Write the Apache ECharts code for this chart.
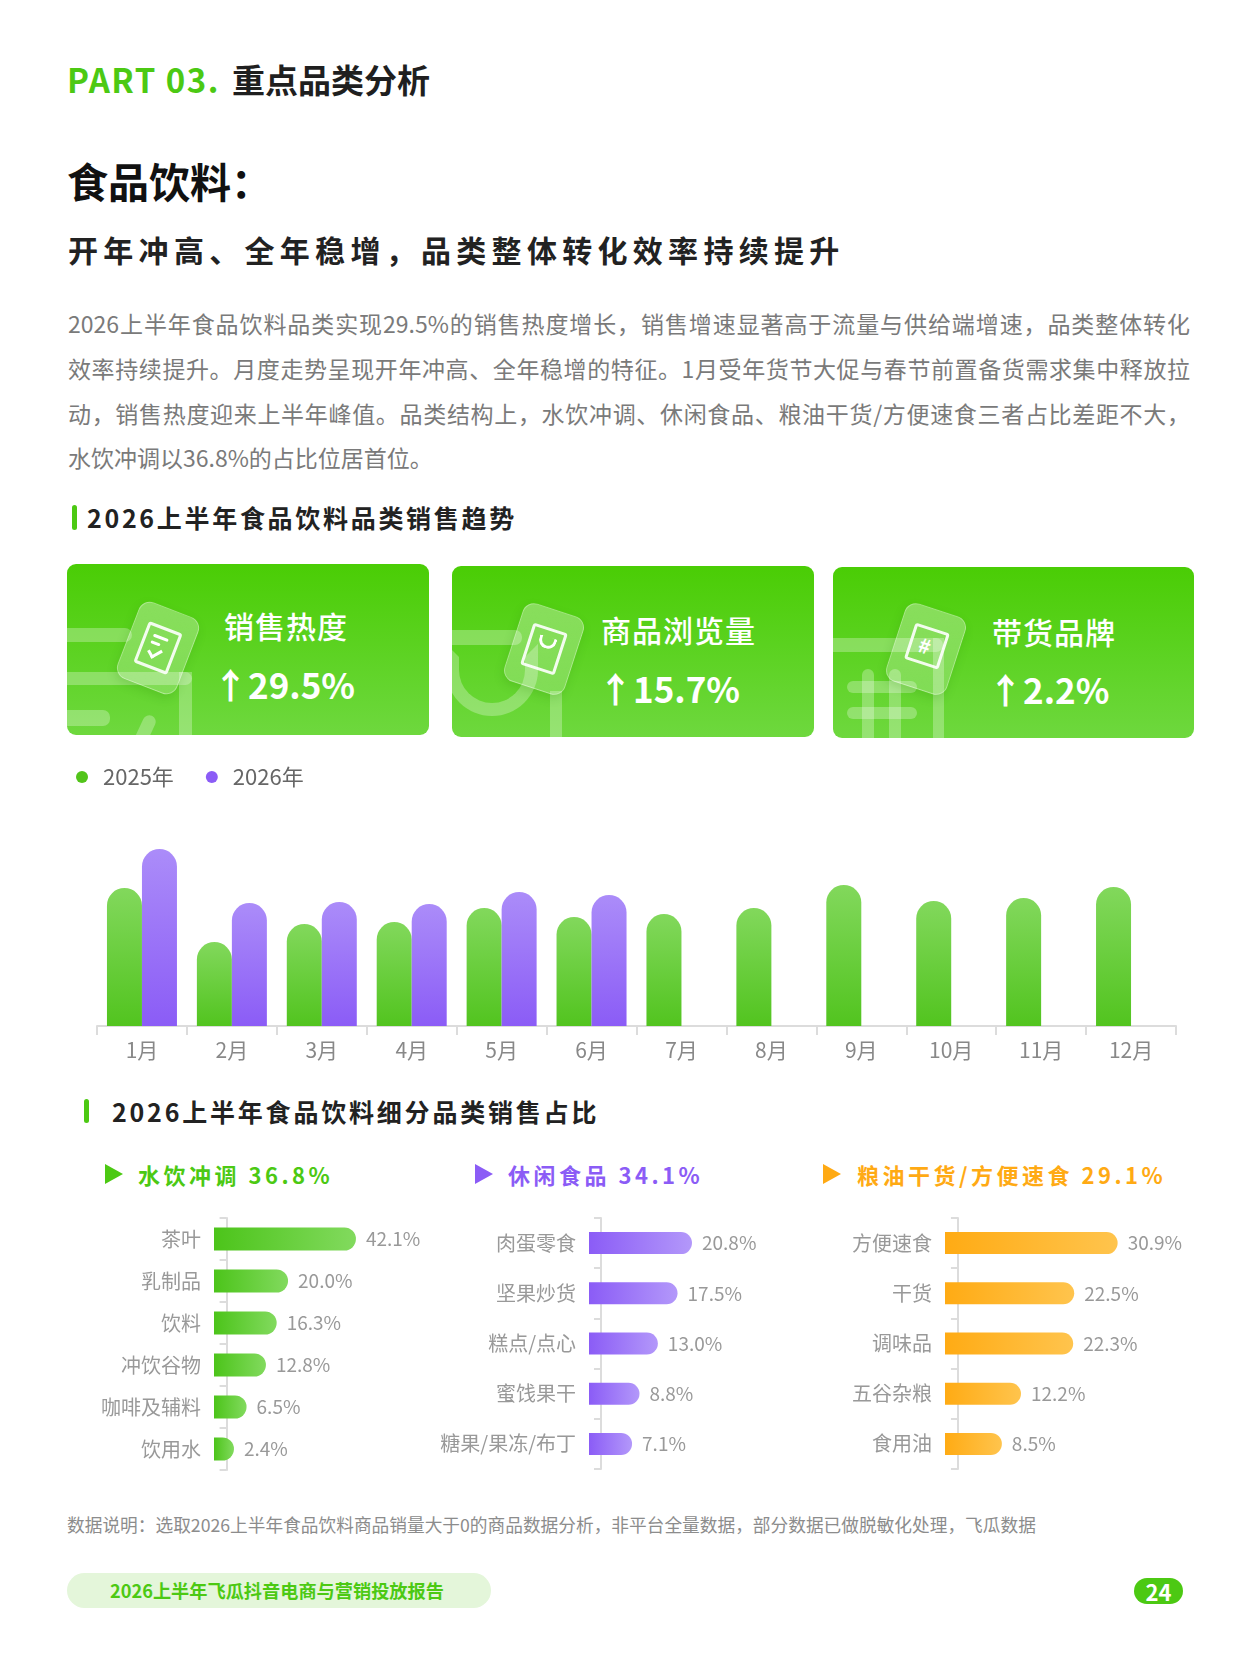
<!DOCTYPE html>
<html lang="zh-CN">
<head>
<meta charset="UTF-8">
<title>食品饮料 - 重点品类分析</title>
<script src="https://cdn.jsdelivr.net/npm/echarts@6/dist/echarts.min.js"></script>
<style>
    html, body {
        margin: 0;
        padding: 0;
        background: #fff;
        overflow: hidden;
    }
    .page {
        position: relative;
        width: 1249px;
        height: 1666px;
        font-family: 'Noto Sans CJK SC', 'Noto Sans', sans-serif;
        color: #222;
    }
    .abs { position: absolute; white-space: nowrap; }
    .part { left: 67px; top: 57px; font-size: 33px; font-weight: 700; color: #4cc913; letter-spacing: 1.5px; line-height: 44px; }
    .part span { color: #1f1f1f; font-size: 33px; margin-left: 12px; letter-spacing: 0; }
    .title { left: 67px; top: 153px; font-size: 41px; font-weight: 700; color: #111; line-height: 54px; }
    .subtitle { left: 68px; top: 229px; font-size: 30px; font-weight: 700; color: #222; letter-spacing: 5.3px; line-height: 40px; }
    .para { left: 68px; width: 1122px; font-size: 23px; color: #7a7a7a; line-height: 30px; }
    .para.j { text-align: justify; text-align-last: justify; }
    .sec-bar { position: absolute; width: 5px; background: #4cc913; border-radius: 3px; }
    .sec { font-size: 25px; font-weight: 700; color: #222; line-height: 32px; }
    .card {
        position: absolute;
        width: 362px;
        height: 171px;
        border-radius: 9px;
        overflow: hidden;
        background: linear-gradient(180deg, #4acd05 0%, #6ed83e 100%);
    }
    .deco { position: absolute; background: rgba(255,255,255,0.28); border-radius: 7px; }
    .tile {
        position: absolute;
        width: 62px;
        height: 80px;
        margin-left: -31px;
        margin-top: -40px;
        border-radius: 12px;
        background: linear-gradient(160deg, rgba(255,255,255,0.32), rgba(255,255,255,0.18));
        border: 1px solid rgba(255,255,255,0.3);
        box-shadow: 0 4px 10px rgba(40,130,0,0.18);
    }
    .tile .inner {
        position: absolute;
        left: 13px; top: 18px;
        width: 30px; height: 38px;
        border: 3px solid rgba(255,255,255,0.9);
        border-radius: 3px;
    }
    .card-t { position: absolute; font-size: 30px; font-weight: 500; color: #fff; line-height: 36px; letter-spacing: 1px; }
    .card-v { position: absolute; font-size: 35px; font-weight: 700; color: #fff; line-height: 44px; }
    .cat-t { position: absolute; font-size: 22px; font-weight: 700; letter-spacing: 3.5px; line-height: 28px; }
    .tri { position: absolute; width: 0; height: 0; border-top: 10px solid transparent; border-bottom: 10px solid transparent; border-left: 18px solid; }
    .note { left: 67px; top: 1512px; font-size: 17.7px; color: #8c8c8c; line-height: 24px; }
    .foot { left: 67px; top: 1573px; width: 424px; height: 35px; border-radius: 18px; background: #e4f6da; }
    .foot span { position: absolute; left: 43px; top: 4px; font-size: 18.2px; font-weight: 700; color: #4cc913; line-height: 27px; }
    .pnum { left: 1134px; top: 1578px; width: 49px; height: 26px; border-radius: 13px; background: #4cc913; color: #fff; font-size: 22px; font-weight: 700; text-align: center; line-height: 26px; }
    #chart { position: absolute; left: 0; top: 0; width: 1249px; height: 1666px; z-index: 2; }
</style>
</head>
<body>
<div class="page">
    <div class="abs part">PART 03.<span>重点品类分析</span></div>
    <div class="abs title">食品饮料：</div>
    <div class="abs subtitle">开年冲高、全年稳增，品类整体转化效率持续提升</div>

    <div class="abs para j" style="top:308px">2026上半年食品饮料品类实现29.5%的销售热度增长，销售增速显著高于流量与供给端增速，品类整体转化</div>
    <div class="abs para j" style="top:353px">效率持续提升。月度走势呈现开年冲高、全年稳增的特征。1月受年货节大促与春节前置备货需求集中释放拉</div>
    <div class="abs para j" style="top:398px">动，销售热度迎来上半年峰值。品类结构上，水饮冲调、休闲食品、粮油干货/方便速食三者占比差距不大，</div>
    <div class="abs para" style="top:442px">水饮冲调以36.8%的占比位居首位。</div>

    <div class="sec-bar" style="left:72px; top:505px; height:25px;"></div>
    <div class="abs sec" style="left:87px; top:501px; letter-spacing:2.7px;">2026上半年食品饮料品类销售趋势</div>

    <!-- KPI cards -->
    <div class="card" style="left:67px; top:564px;">
        <div class="deco" style="left:-10px; top:64px; width:75px; height:14px;"></div>
        <div class="deco" style="left:-10px; top:108px; width:135px; height:13px;"></div>
        <div class="deco" style="left:112px; top:108px; width:13px; height:80px; border-radius:0;"></div>
        <div class="deco" style="left:-10px; top:146px; width:53px; height:16px;"></div>
        <div class="deco" style="left:70px; top:150px; width:13px; height:40px; transform:rotate(25deg);"></div>
        <div class="tile" style="left:90px; top:83px; transform:rotate(21deg);">
            <div class="inner">
                <div style="position:absolute;left:6px;top:7px;width:16px;height:3px;background:#fff;border-radius:2px;"></div>
                <div style="position:absolute;left:6px;top:14px;width:10px;height:3px;background:#fff;border-radius:2px;"></div>
                <div style="position:absolute;left:9px;top:17px;width:6px;height:10px;border-right:3px solid #fff;border-bottom:3px solid #fff;transform:rotate(40deg);"></div>
            </div>
        </div>
        <div class="card-t" style="left:157px; top:43px;">销售热度</div>
        <div class="card-v" style="left:146px; top:98px;">↑29.5%</div>
    </div>

    <div class="card" style="left:452px; top:566px;">
        <div class="deco" style="left:-10px; top:64px; width:80px; height:15px;"></div>
        <div style="position:absolute; left:-6px; top:78px; width:92px; height:72px; border:13px solid rgba(255,255,255,0.28); border-top-color:transparent; border-radius:0 0 60px 60px; box-sizing:border-box;"></div>
        <div class="deco" style="left:98px; top:125px; width:12px; height:70px; border-radius:0;"></div>
        <div class="tile" style="left:91px; top:82px; transform:rotate(18deg);">
            <div class="inner">
                <div style="position:absolute;left:7px;top:6px;width:12px;height:9px;border:3px solid #fff;border-top:none;border-radius:0 0 10px 10px;"></div>
            </div>
        </div>
        <div class="card-t" style="left:149px; top:45px;">商品浏览量</div>
        <div class="card-v" style="left:146px; top:100px;">↑15.7%</div>
    </div>

    <div class="card" style="left:833px; top:567px; width:361px;">
        <div class="deco" style="left:-10px; top:71px; width:120px; height:14px;"></div>
        <div class="deco" style="left:100px; top:71px; width:11px; height:110px; border-radius:0;"></div>
        <div class="deco" style="left:29px; top:102px; width:12px; height:80px;"></div>
        <div class="deco" style="left:56px; top:102px; width:12px; height:80px;"></div>
        <div class="deco" style="left:14px; top:114px; width:70px; height:12px;"></div>
        <div class="deco" style="left:14px; top:140px; width:70px; height:12px;"></div>
        <div class="tile" style="left:92px; top:81px; transform:rotate(18deg);">
            <div class="inner" style="height:32px;">
                <div style="position:absolute;left:7px;top:5px;font-size:20px;font-weight:700;color:#fff;line-height:22px;">#</div>
            </div>
        </div>
        <div class="card-t" style="left:159px; top:46px;">带货品牌</div>
        <div class="card-v" style="left:155px; top:100px;">↑2.2%</div>
    </div>

    <!-- second section -->
    <div class="sec-bar" style="left:84px; top:1099px; height:24px;"></div>
    <div class="abs sec" style="left:112px; top:1095px; letter-spacing:2.8px;">2026上半年食品饮料细分品类销售占比</div>

    <div class="tri" style="left:105px; top:1164px; border-left-color:#4cc913;"></div>
    <div class="cat-t" style="left:138px; top:1160px; color:#4cc913;">水饮冲调 36.8%</div>
    <div class="tri" style="left:475px; top:1164px; border-left-color:#8b5cf6;"></div>
    <div class="cat-t" style="left:508px; top:1160px; color:#8b5cf6;">休闲食品 34.1%</div>
    <div class="tri" style="left:823px; top:1164px; border-left-color:#ffaa14;"></div>
    <div class="cat-t" style="left:857px; top:1160px; color:#ffaa14;">粮油干货/方便速食 29.1%</div>

    <div class="abs note">数据说明：选取2026上半年食品饮料商品销量大于0的商品数据分析，非平台全量数据，部分数据已做脱敏化处理，飞瓜数据</div>
    <div class="abs foot"><span>2026上半年飞瓜抖音电商与营销投放报告</span></div>
    <div class="abs pnum">24</div>

    <div id="chart"></div>
</div>

<script>
    // monthly sales heat index
    const months = ['1月', '2月', '3月', '4月', '5月', '6月', '7月', '8月', '9月', '10月', '11月', '12月'];
    const sales2025 = [138, 84, 102, 104, 118, 109, 112, 118, 141, 125, 128, 139];
    const sales2026 = [177, 123, 124, 122, 134, 131, null, null, null, null, null, null];

    // sub-category shares (%)
    const waterCats = ['茶叶', '乳制品', '饮料', '冲饮谷物', '咖啡及辅料', '饮用水'];
    const waterVals = [42.1, 20.0, 16.3, 12.8, 6.5, 2.4];
    const snackCats = ['肉蛋零食', '坚果炒货', '糕点/点心', '蜜饯果干', '糖果/果冻/布丁'];
    const snackVals = [20.8, 17.5, 13.0, 8.8, 7.1];
    const grainCats = ['方便速食', '干货', '调味品', '五谷杂粮', '食用油'];
    const grainVals = [30.9, 22.5, 22.3, 12.2, 8.5];

    const FONT = 'Noto Sans CJK SC';
    const chart = echarts.init(document.getElementById('chart'), null, { renderer: 'canvas' });

    function vGrad(top, bottom) {
        return new echarts.graphic.LinearGradient(0, 0, 0, 1, [
            { offset: 0, color: top },
            { offset: 1, color: bottom }
        ]);
    }
    function hGrad(left, right) {
        return new echarts.graphic.LinearGradient(0, 0, 1, 0, [
            { offset: 0, color: left },
            { offset: 1, color: right }
        ]);
    }

    // horizontal share chart axes
    function catAxis(idx, cats) {
        return {
            type: 'category',
            gridIndex: idx,
            data: cats,
            inverse: true,
            axisLine: { lineStyle: { color: '#dcdcdc', width: 2 } },
            axisTick: { show: true, length: 7, lineStyle: { color: '#dcdcdc', width: 2 } },
            axisLabel: { color: '#999', fontSize: 20, fontFamily: FONT, margin: 13 }
        };
    }
    function valAxis(idx, min, max) {
        return {
            type: 'value',
            gridIndex: idx,
            min: min,
            max: max,
            startValue: min,
            show: false,
            splitLine: { show: false }
        };
    }
    function shareSeries(idx, vals, grad, bw) {
        return {
            type: 'bar',
            xAxisIndex: idx,
            yAxisIndex: idx,
            data: vals,
            barWidth: bw,
            itemStyle: { color: grad, borderRadius: [0, 12, 12, 0] },
            label: {
                show: true,
                position: 'right',
                distance: 10,
                color: '#999',
                fontSize: 19,
                fontFamily: FONT,
                formatter: p => p.value.toFixed(1) + '%'
            }
        };
    }

    chart.setOption({
        animation: false,
        backgroundColor: 'transparent',
        legend: {
            left: 71,
            top: 761,
            itemWidth: 12,
            itemHeight: 12,
            itemGap: 32,
            icon: 'circle',
            textStyle: { color: '#666', fontSize: 22, fontFamily: FONT, padding: [0, 0, 0, 10] },
            data: [
                { name: '2025年', itemStyle: { color: '#52c41a' } },
                { name: '2026年', itemStyle: { color: '#8b5cf6' } }
            ]
        },
        grid: [
            { left: 97, top: 826, width: 1079, height: 200 },
            { left: 214, top: 1218, width: 200, height: 252 },
            { left: 589, top: 1218, width: 187, height: 251 },
            { left: 945, top: 1218, width: 199, height: 251 }
        ],
        xAxis: [
            {
                type: 'category',
                gridIndex: 0,
                data: months,
                axisLine: { lineStyle: { color: '#dcdcdc', width: 2 } },
                axisTick: { show: true, length: 9, lineStyle: { color: '#dcdcdc', width: 2 } },
                axisLabel: { color: '#888', fontSize: 21, fontFamily: FONT, margin: 14 }
            },
            valAxis(1, -4.1, 61),
            valAxis(2, -2.74, 40),
            valAxis(3, -2.5, 36)
        ],
        yAxis: [
            { type: 'value', gridIndex: 0, min: 0, max: 200, show: false, splitLine: { show: false } },
            catAxis(1, waterCats),
            catAxis(2, snackCats),
            catAxis(3, grainCats)
        ],
        series: [
            {
                name: '2025年',
                type: 'bar',
                xAxisIndex: 0,
                yAxisIndex: 0,
                data: sales2025,
                barWidth: 35,
                barGap: '0%',
                itemStyle: { color: vGrad('#82d85c', '#52c41f'), borderRadius: [18, 18, 0, 0] }
            },
            {
                name: '2026年',
                type: 'bar',
                xAxisIndex: 0,
                yAxisIndex: 0,
                data: sales2026,
                barWidth: 35,
                barGap: '0%',
                itemStyle: { color: vGrad('#ab8cf9', '#8b5cf6'), borderRadius: [18, 18, 0, 0] }
            },
            shareSeries(1, waterVals, hGrad('#4cc41a', '#82da5e'), 23),
            shareSeries(2, snackVals, hGrad('#8b5cf6', '#b398fa'), 22),
            shareSeries(3, grainVals, hGrad('#ffab14', '#ffc44d'), 22)
        ]
    });
</script>
</body>
</html>
